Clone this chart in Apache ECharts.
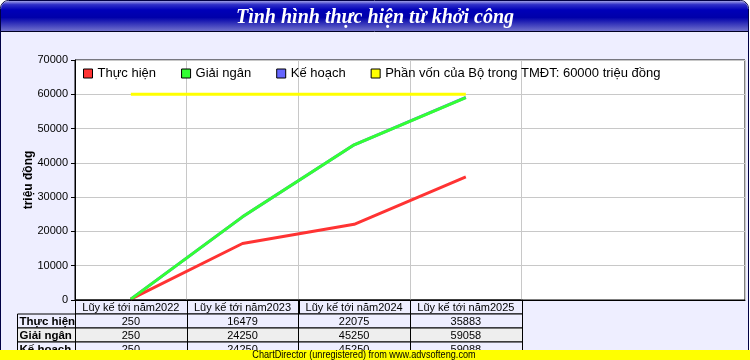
<!DOCTYPE html>
<html><head><meta charset="utf-8">
<script src="https://cdn.jsdelivr.net/npm/echarts@6/dist/echarts.min.js"></script>
<style>html,body{margin:0;padding:0;background:#fff}#c{width:750px;height:360px}</style>
</head><body><div id="c"></div>
<script>
const titleText = 'Tình hình thực hiện từ khởi công';
const footerText = 'ChartDirector (unregistered) from www.advsofteng.com';
const yAxisName = 'triệu đồng';
const categories = ['Lũy kế tới năm2022', 'Lũy kế tới năm2023', 'Lũy kế tới năm2024', 'Lũy kế tới năm2025', '', ''];
const seriesNames = ['Thực hiện', 'Giải ngân', 'Kế hoạch', 'Phần vốn của Bộ trong TMĐT: 60000 triệu đồng'];
const thucHien = [250, 16479, 22075, 35883];
const giaiNgan = [250, 24250, 45250, 59058];
const keHoach = [250, 24250, 45250, 59088];
const phanVon = [60000, 60000, 60000, 60000];
const tableRows = [
  { name: 'Thực hiện', values: thucHien },
  { name: 'Giải ngân', values: giaiNgan },
  { name: 'Kế hoạch', values: keHoach }
];
const yMin = 0, yMax = 70000, yStep = 10000;

const FONT = 'Liberation Sans, Arial, sans-serif';
const chart = echarts.init(document.getElementById('c'), null, { renderer: 'canvas' });

const option = {
  backgroundColor: 'transparent',
  animation: false,
  title: {
    text: titleText, left: 'center', top: 3, z: 20,
    textStyle: { color: '#ffffff', fontFamily: 'Liberation Serif, serif', fontStyle: 'italic', fontWeight: 'bold', fontSize: 20 }
  },
  legend: {
    left: 78, top: 62, padding: 5, itemGap: 25, itemWidth: 9, itemHeight: 9, icon: 'rect',
    itemStyle: { borderColor: '#000', borderWidth: 1 },
    textStyle: { fontFamily: FONT, fontSize: 13, color: '#000' },
    data: seriesNames
  },
  grid: {
    left: 75, right: 5, top: 60, bottom: 60, show: true,
    backgroundColor: '#ffffff', borderColor: '#000000', borderWidth: 1
  },
  xAxis: {
    type: 'category', data: categories, boundaryGap: true,
    axisLine: { lineStyle: { color: '#000', width: 1 } },
    axisTick: { show: false },
    axisLabel: { interval: 0, margin: 2, fontFamily: FONT, fontSize: 11, color: '#000' },
    splitLine: { show: true, interval: function (idx) { return idx >= 1 && idx <= 4; }, lineStyle: { color: '#c8c8c8', width: 1 } }
  },
  yAxis: {
    type: 'value', min: yMin, max: yMax, interval: yStep,
    name: yAxisName, nameLocation: 'middle', nameGap: 40, nameMoveOverlap: false,
    nameTextStyle: { fontFamily: FONT, fontSize: 12, fontWeight: 'bold', color: '#000' },
    axisLine: { show: true, lineStyle: { color: '#000', width: 1 } },
    axisTick: { show: true, length: 4, lineStyle: { color: '#000' } },
    axisLabel: { margin: 7, fontFamily: FONT, fontSize: 11, color: '#000', formatter: function (v) { return String(v); } },
    splitLine: { show: true, lineStyle: { color: '#c8c8c8', width: 1 } }
  },
  series: [
    { name: seriesNames[2], type: 'line', data: keHoach, symbol: 'none', z: 2, lineStyle: { width: 3, color: '#6666ff' }, itemStyle: { color: '#6666ff' } },
    { name: seriesNames[0], type: 'line', data: thucHien, symbol: 'none', z: 3, lineStyle: { width: 3, color: '#ff3333' }, itemStyle: { color: '#ff3333' } },
    { name: seriesNames[1], type: 'line', data: giaiNgan, symbol: 'none', z: 4, lineStyle: { width: 3, color: '#33ff33' }, itemStyle: { color: '#33ff33' } },
    { name: seriesNames[3], type: 'line', data: phanVon, symbol: 'none', z: 5, lineStyle: { width: 3, color: '#ffff00' }, itemStyle: { color: '#ffff00' } }
  ]
};
chart.setOption(option);

// Table and decorations built from the axis scales
const c0 = chart.convertToPixel({ xAxisIndex: 0 }, 0);
const c1 = chart.convertToPixel({ xAxisIndex: 0 }, 1);
const bw = c1 - c0;
const yBase = chart.convertToPixel({ yAxisIndex: 0 }, yMin);
const rowH = 14;
const W = 750, H = 360;
const g = [];
g.push({ type: 'rect', z: -10, shape: { x: 0.5, y: 0.5, width: W - 2, height: H - 1, r: [8, 8, 0, 0] }, style: { fill: '#eeeeff', stroke: '#000044', lineWidth: 1 } });
g.push({ type: 'rect', z: 1, shape: { x: 1, y: 1, width: W - 3, height: 30, r: [8, 8, 0, 0] },
  style: { fill: new echarts.graphic.LinearGradient(0, 0, 0, 1, [
    { offset: 0, color: '#a0a0e8' }, { offset: 0.12, color: '#3030c8' }, { offset: 0.3, color: '#0000b8' },
    { offset: 0.55, color: '#0000aa' }, { offset: 1, color: '#7070cc' }]) } });
g.push({ type: 'line', z: 2, shape: { x1: 1, y1: 31.5, x2: W - 2, y2: 31.5 }, style: { stroke: '#000022', lineWidth: 1 } });
categories.forEach(function (cat, i) {
  if (!cat) return;
  const cx = chart.convertToPixel({ xAxisIndex: 0 }, i);
  const x = Math.round(cx - bw / 2) + 0.5;
  g.push({ type: 'rect', z: 10, shape: { x: x, y: yBase, width: Math.round(bw), height: rowH }, style: { fill: 'none', stroke: '#000', lineWidth: 1 } });
  tableRows.forEach(function (row, r) {
    const y = yBase + rowH * (r + 1);
    g.push({ type: 'rect', z: 10, shape: { x: x, y: y, width: Math.round(bw), height: rowH }, style: { fill: r === 1 ? '#eeeeee' : '#eeeeff', stroke: '#000', lineWidth: 1 } });
    g.push({ type: 'text', z: 11, x: cx, y: y + rowH / 2 + 0.5, style: { text: String(row.values[i]), fill: '#000', font: '11px ' + FONT, align: 'center', verticalAlign: 'middle' } });
  });
});
const leftX = 17.5;
const firstX = Math.round(c0 - bw / 2) + 0.5;
tableRows.forEach(function (row, r) {
  const y = yBase + rowH * (r + 1);
  g.push({ type: 'rect', z: 10, shape: { x: leftX, y: y, width: firstX - leftX, height: rowH }, style: { fill: r === 1 ? '#eeeeee' : '#eeeeff', stroke: '#000', lineWidth: 1 } });
  g.push({ type: 'text', z: 11, x: leftX + 2, y: y + rowH / 2 + 0.5, style: { text: row.name, fill: '#000', font: 'bold 11.5px ' + FONT, align: 'left', verticalAlign: 'middle' } });
});
g.push({ type: 'rect', z: 30, shape: { x: 0, y: H - 10, width: W, height: 10 }, style: { fill: '#ffff00' } });
g.push({ type: 'text', z: 31, x: 364, y: H - 5, scaleX: 0.83, style: { text: footerText, fill: '#000', font: '11px ' + FONT, align: 'center', verticalAlign: 'middle' } });
chart.setOption({ graphic: g });
</script></body></html>
